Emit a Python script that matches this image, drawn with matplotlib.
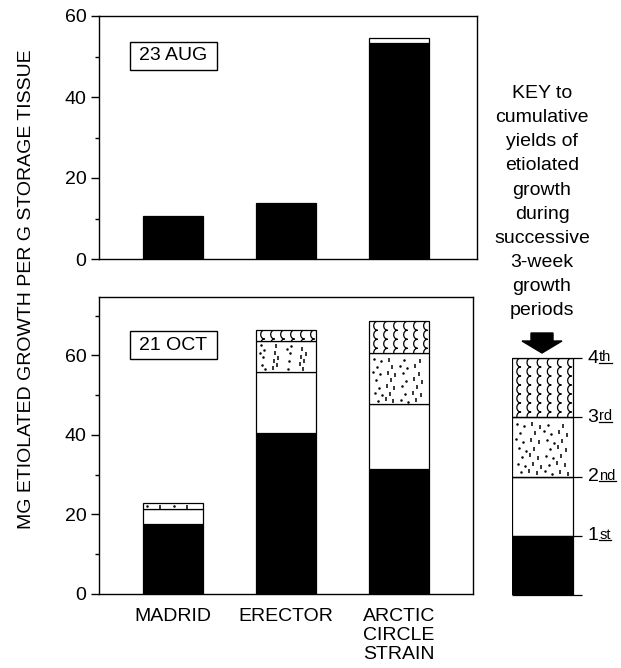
import matplotlib

matplotlib.use("Agg")
import matplotlib.pyplot as plt
import numpy as np
from matplotlib.lines import Line2D
from matplotlib.patches import FancyArrow, Rectangle
from matplotlib.ticker import MultipleLocator
from matplotlib.transforms import IdentityTransform

plt.rcParams["font.family"] = ["Liberation Sans", "DejaVu Sans"]
plt.rcParams["font.size"] = 14

categories = ["MADRID", "ERECTOR", "ARCTIC\nCIRCLE\nSTRAIN"]

# cumulative yields (mg etiolated growth / g storage tissue) after each 3-week period
aug_1st = [10.6, 13.8, 53.3]
aug_2nd = [10.6, 13.8, 54.5]

oct_1st = [17.7, 40.5, 31.5]
oct_2nd = [21.3, 55.8, 47.7]
oct_3rd = [22.8, 63.6, 60.5]
oct_4th = [22.8, 66.4, 68.6]

key_levels = [1, 2, 3, 4]
key_numbers = ["1", "2", "3", "4"]
key_suffixes = ["st", "nd", "rd", "th"]
key_text = ("KEY to\ncumulative\nyields of\netiolated\ngrowth\nduring\n"
            "successive\n3-week\ngrowth\nperiods")
ylabel = "MG ETIOLATED GROWTH PER G STORAGE TISSUE"

W, H = 621, 668
BAR_W = 0.53
LW = 0.9
STYLES = ["solid", "white", "dots", "waves"]
G = 1.32471795724474602596


def px_box(left, top, right, bottom):
    return [left / W, 1 - bottom / H, (right - left) / W, (bottom - top) / H]


def add_stipple(ax, patch):
    bb = patch.get_window_extent()
    w, h = bb.width, bb.height
    n = max(int(w * h / 80), 4)
    k = np.arange(1, n + 1)
    u = (0.5 + k / G) % 1
    v = (0.5 + k / G ** 2) % 1
    px = bb.x0 + 3 + u * (w - 6)
    py = bb.y0 + 2 + v * max(h - 4, 0.5)
    pts = ax.transData.inverted().transform(np.column_stack([px, py]))
    ax.plot(pts[::2, 0], pts[::2, 1], ls="none", marker="|", ms=2.6, mew=1.1,
            color="black", zorder=3, clip_on=False)
    ax.plot(pts[1::2, 0], pts[1::2, 1], ls="none", marker="o", ms=1.8, mew=0,
            color="black", zorder=3, clip_on=False)


def add_waves(ax, patch):
    bb = patch.get_window_extent()
    n_cols = max(int(round(bb.width / 10)), 1)
    spacing = bb.width / n_cols
    arc_h = 9.0
    amp = 3.8
    n_arcs = int(np.ceil(bb.height / arc_h)) + 1
    t = np.linspace(0, n_arcs, n_arcs * 30 + 1)
    frac = t % 1
    bulge = np.sqrt(np.clip(1 - (2 * frac - 1) ** 2, 0, 1))
    for i in range(n_cols):
        xc = bb.x0 + (i + 0.85) * spacing
        px = xc - amp * bulge
        py = bb.y1 - t * arc_h
        pts = ax.transData.inverted().transform(np.column_stack([px, py]))
        line = ax.plot(pts[:, 0], pts[:, 1], color="black", lw=0.9, zorder=3)[0]
        line.set_clip_path(patch)


def draw_segment(ax, x, bottom, top, style, width=BAR_W, align="center"):
    if top - bottom <= 0:
        return
    face = "black" if style == "solid" else "white"
    bars = ax.bar(x, top - bottom, bottom=bottom, width=width, align=align,
                  color=face, edgecolor="black", linewidth=LW, zorder=2)
    patch = bars[0]
    if style == "dots":
        add_stipple(ax, patch)
    elif style == "waves":
        add_waves(ax, patch)


def draw_stacks(ax, levels):
    for i in range(len(categories)):
        bottom = 0.0
        for style, series in zip(STYLES, levels):
            draw_segment(ax, i, bottom, series[i], style)
            bottom = series[i]


def style_axis(ax, ymax):
    ax.set_ylim(0, ymax)
    ax.yaxis.set_major_locator(MultipleLocator(20))
    ax.yaxis.set_minor_locator(MultipleLocator(10))
    ax.tick_params(axis="y", which="major", length=6, width=1, pad=3, labelsize=14)
    ax.tick_params(axis="y", which="minor", length=3, width=1)
    for spine in ax.spines.values():
        spine.set_linewidth(1)


def date_box(ax, x0, y0, x1, y1, text):
    ax.add_patch(Rectangle((x0, y0), x1 - x0, y1 - y0, transform=ax.transAxes,
                           facecolor="white", edgecolor="black", lw=1, zorder=4))
    ax.text((x0 + x1) / 2, (y0 + y1) / 2, text, transform=ax.transAxes,
            ha="center", va="center", fontsize=14, zorder=5)


fig = plt.figure(figsize=(W / 100, H / 100), dpi=100)

ax_top = fig.add_axes(px_box(99, 16, 477, 259))
ax_top.set_xlim(-0.655, 2.69)
style_axis(ax_top, 60)
ax_top.set_xticks([])
draw_stacks(ax_top, [aug_1st, aug_2nd])
date_box(ax_top, 0.082, 0.778, 0.312, 0.893, "23 AUG")

ax_bot = fig.add_axes(px_box(99, 297, 473, 594))
ax_bot.set_xlim(-0.655, 2.655)
style_axis(ax_bot, 74.7)
ax_bot.set_xticks(range(len(categories)), categories)
ax_bot.tick_params(axis="x", length=0, pad=10, labelsize=14)
for label in ax_bot.get_xticklabels():
    label.set_linespacing(1.15)
    label.set_multialignment("left")
draw_stacks(ax_bot, [oct_1st, oct_2nd, oct_3rd, oct_4th])
date_box(ax_bot, 0.083, 0.791, 0.3155, 0.8855, "21 OCT")

fig.text(27 / W, 1 - 289 / H, ylabel, rotation=90, ha="center", va="center", fontsize=14)

# key column
fig.text(542 / W, 1 - 85 / H, key_text, ha="center", va="top", fontsize=14, linespacing=1.55)
fig.add_artist(FancyArrow(542, H - 333, 0, -20, width=22, head_width=40, head_length=12,
                          length_includes_head=True, color="black",
                          transform=IdentityTransform()))

ax_key = fig.add_axes(px_box(512, 358, 582, 595))
key_right = 70 / 61
ax_key.set_xlim(0, key_right)
ax_key.set_ylim(0, 4)
ax_key.axis("off")
bottom = 0
for style, level in zip(STYLES, key_levels):
    draw_segment(ax_key, 0, bottom, level, style, width=1, align="edge")
    bottom = level
ax_key.hlines([0] + key_levels, 0, key_right, color="black", lw=LW, clip_on=False, zorder=4)

sups = []
for level, num, suf in zip(key_levels, key_numbers, key_suffixes):
    t = ax_key.annotate(num, xy=(key_right, level), xytext=(4, 0), textcoords="offset points",
                        ha="left", va="center", fontsize=14, annotation_clip=False)
    s = ax_key.annotate(suf, xy=(1, 1), xycoords=t, xytext=(0.5, -0.5),
                        textcoords="offset points", ha="left", va="top", fontsize=10.5)
    sups.append(s)

fig.canvas.draw()
renderer = fig.canvas.get_renderer()
for s in sups:
    bb = s.get_window_extent(renderer)
    fig.add_artist(Line2D([bb.x0, bb.x1], [bb.y0 + 1.5, bb.y0 + 1.5], color="black", lw=0.9,
                          transform=IdentityTransform()))

fig.savefig("out.png", dpi=100)
